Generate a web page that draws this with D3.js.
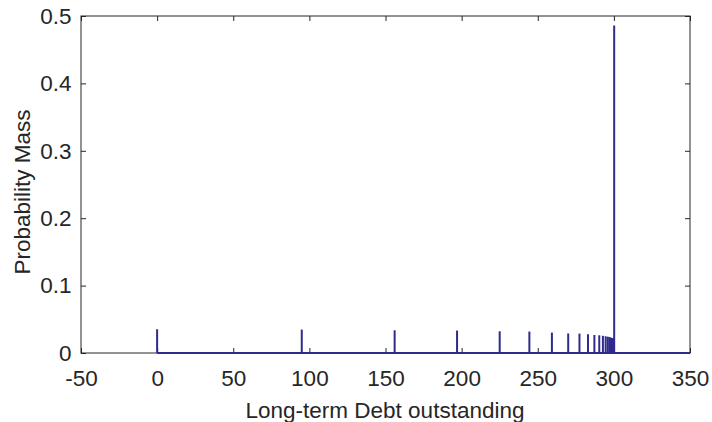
<!DOCTYPE html>
<html lang="en">
<head>
<meta charset="UTF-8">
<title>stem</title>
<style>
  body { margin: 0; background: #fff; }
  text { font-family: "Liberation Sans", Arial, sans-serif; fill: #262626; }
</style>
</head>
<body>
<svg id="chart"></svg>
<script src="https://cdn.jsdelivr.net/npm/d3@7/dist/d3.min.js"></script>
<script>
// debt grid points and probability mass at each
const debt = [0, 95, 156, 197, 225, 244.5, 259.3, 270, 277.4, 283, 287.2, 290.4, 292.8, 294.6, 296, 297.1, 298, 298.7, 299.3, 299.7, 300.2];
const mass = [0.0352, 0.0347, 0.0337, 0.0333, 0.0322, 0.0318, 0.0303, 0.029, 0.0288, 0.0278, 0.0267, 0.0263, 0.0255, 0.0248, 0.0242, 0.0236, 0.0229, 0.0223, 0.022, 0.0215, 0.486];
// grid extends to upper bound with zero mass
const debtMax = 350;

const xTicks = [-50, 0, 50, 100, 150, 200, 250, 300, 350];
const yTicks = [0, 0.1, 0.2, 0.3, 0.4, 0.5];

const width = 712, height = 422;
const m = { left: 81, right: 690, top: 16, bottom: 353 };

const svg = d3.select('#chart').attr('width', width).attr('height', height);

const x = d3.scaleLinear().domain([-50, 350]).range([m.left, m.right]);
const y = d3.scaleLinear().domain([0, 0.5]).range([m.bottom, m.top]);

const stemColor = '#2f2a8c';
const fs = 22.5;

// axes box
svg.append('rect')
  .attr('x', m.left).attr('y', m.top)
  .attr('width', m.right - m.left).attr('height', m.bottom - m.top)
  .attr('fill', 'none').attr('stroke', '#262626').attr('stroke-width', 1);

// ticks inside on all four sides
const tl = 5;
svg.append('g').attr('transform', `translate(0,${m.bottom})`)
  .call(d3.axisBottom(x).tickValues(xTicks).tickSize(-tl).tickPadding(17).tickFormat(d => String(d)))
  .call(g => g.select('.domain').remove());
svg.append('g').attr('transform', `translate(0,${m.top})`)
  .call(d3.axisTop(x).tickValues(xTicks).tickSize(-tl).tickFormat(''))
  .call(g => g.select('.domain').remove());
svg.append('g').attr('transform', `translate(${m.left},0)`)
  .call(d3.axisLeft(y).tickValues(yTicks).tickSize(-tl).tickPadding(9.5).tickFormat(d => d === 0 ? '0' : d3.format('.1f')(d)))
  .call(g => g.select('.domain').remove());
svg.append('g').attr('transform', `translate(${m.right},0)`)
  .call(d3.axisRight(y).tickValues(yTicks).tickSize(-tl).tickFormat(''))
  .call(g => g.select('.domain').remove());

svg.selectAll('.tick line').attr('stroke', '#262626');
svg.selectAll('.tick text').attr('font-size', fs).attr('fill', '#262626')
  .attr('font-family', '"Liberation Sans", Arial, sans-serif');

// baseline of the stems
svg.append('line')
  .attr('x1', x(debt[0])).attr('x2', x(debtMax))
  .attr('y1', y(0)).attr('y2', y(0))
  .attr('stroke', stemColor).attr('stroke-width', 2);

// stems
svg.append('g').selectAll('line')
  .data(debt.map((d, i) => ({ d, v: mass[i] })))
  .enter().append('line')
  .attr('x1', p => x(p.d)).attr('x2', p => x(p.d))
  .attr('y1', y(0)).attr('y2', p => y(p.v))
  .attr('stroke', stemColor).attr('stroke-width', 2);

// labels
svg.append('text')
  .attr('x', 385).attr('y', 418)
  .attr('text-anchor', 'middle').attr('font-size', fs)
  .text('Long-term Debt outstanding');

svg.append('text')
  .attr('transform', `translate(29.5,192) rotate(-90)`)
  .attr('text-anchor', 'middle').attr('font-size', fs)
  .text('Probability Mass');
</script>
</body>
</html>
